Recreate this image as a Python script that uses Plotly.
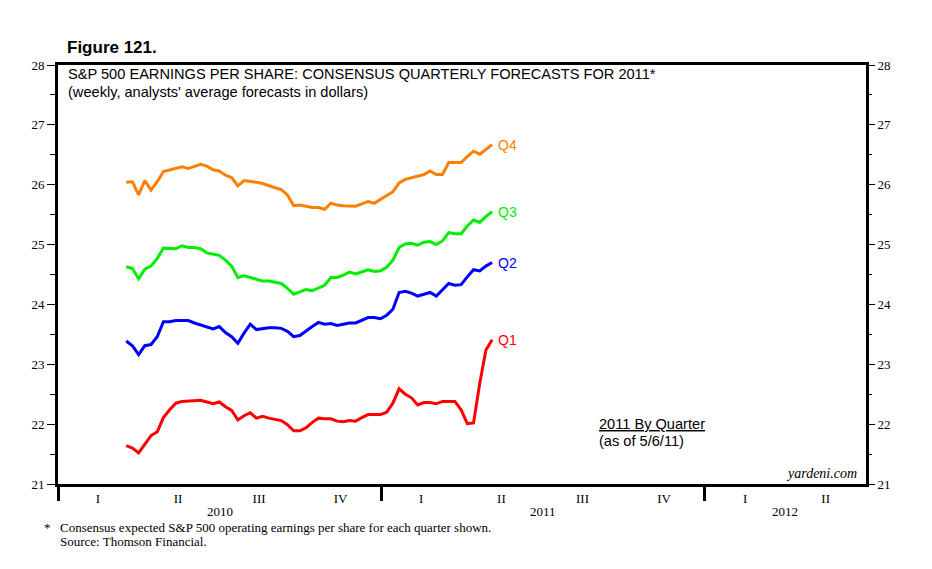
import pandas as pd
import plotly.graph_objects as go

# weekly dates of the analysts' forecasts (Mar 19 2010 .. May 6 2011)
fechas = pd.date_range("2010-03-19", periods=60, freq="7D")

q1 = [21.64, 21.60, 21.52, 21.67, 21.81, 21.87, 22.11, 22.24, 22.35, 22.38,
      22.39, 22.39, 22.40, 22.37, 22.34, 22.37, 22.29, 22.23, 22.07, 22.14,
      22.19, 22.10, 22.13, 22.10, 22.08, 22.06, 21.99, 21.89, 21.89, 21.94,
      22.03, 22.10, 22.09, 22.09, 22.05, 22.04, 22.06, 22.05, 22.11, 22.16,
      22.16, 22.16, 22.20, 22.35, 22.59, 22.50, 22.44, 22.32, 22.36, 22.36,
      22.34, 22.38, 22.38, 22.38, 22.24, 22.01, 22.02, 22.68, 23.24, 23.41]

q2 = [23.39, 23.31, 23.16, 23.31, 23.33, 23.46, 23.71, 23.71, 23.73, 23.73,
      23.73, 23.69, 23.66, 23.62, 23.59, 23.63, 23.53, 23.46, 23.35, 23.52,
      23.67, 23.58, 23.60, 23.61, 23.61, 23.60, 23.55, 23.46, 23.48, 23.56,
      23.63, 23.70, 23.67, 23.68, 23.65, 23.67, 23.69, 23.69, 23.73, 23.78,
      23.78, 23.76, 23.82, 23.92, 24.20, 24.22, 24.19, 24.14, 24.17, 24.20,
      24.14, 24.24, 24.35, 24.32, 24.33, 24.46, 24.58, 24.56, 24.64, 24.70]

q3 = [24.63, 24.60, 24.43, 24.59, 24.64, 24.77, 24.94, 24.94, 24.93, 24.98,
      24.95, 24.95, 24.93, 24.86, 24.84, 24.82, 24.74, 24.64, 24.45, 24.48,
      24.45, 24.42, 24.39, 24.39, 24.37, 24.35, 24.27, 24.17, 24.21, 24.25,
      24.23, 24.27, 24.32, 24.45, 24.45, 24.49, 24.54, 24.51, 24.55, 24.58,
      24.55, 24.56, 24.62, 24.74, 24.95, 25.01, 25.02, 24.99, 25.04, 25.05,
      25.00, 25.06, 25.20, 25.18, 25.18, 25.31, 25.41, 25.37, 25.47, 25.55]

q4 = [26.04, 26.05, 25.83, 26.07, 25.91, 26.05, 26.22, 26.25, 26.28, 26.30,
      26.27, 26.31, 26.34, 26.31, 26.25, 26.23, 26.16, 26.12, 25.98, 26.07,
      26.06, 26.04, 26.02, 25.98, 25.95, 25.92, 25.83, 25.65, 25.66, 25.64,
      25.62, 25.62, 25.59, 25.69, 25.66, 25.65, 25.64, 25.64, 25.68, 25.72,
      25.69, 25.76, 25.82, 25.88, 26.03, 26.09, 26.12, 26.15, 26.17, 26.23,
      26.17, 26.17, 26.37, 26.37, 26.37, 26.47, 26.56, 26.51, 26.59, 26.67]

series = {"Q1": q1, "Q2": q2, "Q3": q3, "Q4": q4}
colores = {"Q1": "#FF0000", "Q2": "#0000FF", "Q3": "#00EE00", "Q4": "#FF8000"}

# eje x: trimestres y anios
trimestres = ["I", "II", "III", "IV", "I", "II", "III", "IV", "I", "II"]
inicio_trim = pd.date_range("2010-01-01", periods=11, freq="QS")
anios = ["2010", "2011", "2012"]

# tamanio de la figura y del area de trazado (pixeles)
W, H = 932, 569
L, R, T, B = 58, 66, 65, 85
PW, PH = W - L - R, H - T - B


def px_x(px):
    return (px - L) / PW


def px_y(py):
    return (H - B - py) / PH


SERIF = "Liberation Serif, Times New Roman, serif"
SANS = "Liberation Sans, Arial, sans-serif"

fig = go.Figure()
for nombre, valores in series.items():
    fig.add_trace(go.Scatter(
        x=fechas, y=valores, mode="lines", name=nombre,
        line=dict(color=colores[nombre], width=3),
        hoverinfo="x+y+name"))
# traza vacia para el eje derecho
fig.add_trace(go.Scatter(x=[fechas[0]], y=[q1[0]], yaxis="y2",
                         mode="lines", showlegend=False, hoverinfo="skip",
                         line=dict(color="rgba(0,0,0,0)")))

# centro de cada trimestre para las etiquetas romanas
centros = [inicio_trim[i] + (inicio_trim[i + 1] - inicio_trim[i]) / 2
           for i in range(len(trimestres))]

anotaciones = []
# etiquetas al final de cada serie
for nombre, valores in series.items():
    anotaciones.append(dict(
        x=fechas[-1], y=valores[-1], xref="x", yref="y", text=nombre,
        showarrow=False, xanchor="left", xshift=4,
        font=dict(family=SANS, size=14, color=colores[nombre])))

# anios debajo de los trimestres
limites_anio = [pd.Timestamp("2010-01-01"), pd.Timestamp("2011-01-01"),
                pd.Timestamp("2012-01-01"), pd.Timestamp("2012-07-01")]
for i, anio in enumerate(anios):
    medio = limites_anio[i] + (limites_anio[i + 1] - limites_anio[i]) / 2
    anotaciones.append(dict(
        x=medio, y=px_y(511), xref="x", yref="paper", text=anio,
        showarrow=False, yanchor="middle",
        font=dict(family=SERIF, size=13, color="black")))

textos = [
    ("<b>Figure 121.</b>", 65, 47, "left", SANS, 17),
    ("S&P 500 EARNINGS PER SHARE: CONSENSUS QUARTERLY FORECASTS FOR 2011*",
     66, 74.5, "left", SANS, 14.6),
    ("(weekly, analysts' average forecasts in dollars)", 66, 91.5, "left",
     SANS, 14.6),
    ("<u>2011 By Quarter</u>", 597, 424, "left", SANS, 14.6),
    ("(as of 5/6/11)", 597, 441, "left", SANS, 14.6),
    ("<i>yardeni.com</i>", 859, 473, "right", SERIF, 14),
    ("*", 42, 527, "left", SERIF, 13),
    ("Consensus expected S&P 500 operating earnings per share for each "
     "quarter shown.", 58, 527, "left", SERIF, 13),
    ("Source: Thomson Financial.", 58, 541, "left", SERIF, 13),
]
for texto, x, y, anc, familia, tam in textos:
    anotaciones.append(dict(
        x=px_x(x), y=px_y(y), xref="paper", yref="paper", text=texto,
        showarrow=False, xanchor=anc, yanchor="middle",
        font=dict(family=familia, size=tam, color="black")))

eje_y = dict(
    range=[21, 28], dtick=1, ticks="outside", ticklen=8, tickwidth=1,
    tickcolor="black", showgrid=False, zeroline=False,
    tickfont=dict(family=SERIF, size=13, color="black"),
    minor=dict(dtick=0.5, ticks="outside", ticklen=5, tickwidth=1,
               tickcolor="black", showgrid=False))

fig.update_layout(
    width=W, height=H,
    margin=dict(l=L, r=R, t=T, b=B),
    paper_bgcolor="white", plot_bgcolor="white",
    showlegend=False,
    xaxis=dict(
        type="date", range=["2010-01-01", "2012-07-01"],
        tickvals=centros, ticktext=trimestres, ticks="",
        tickfont=dict(family=SERIF, size=13, color="black"),
        showline=True, linewidth=3, linecolor="black", mirror=True,
        showgrid=False, zeroline=False,
        minor=dict(tick0="2010-01-01", dtick="M12", ticks="outside",
                   ticklen=14, tickwidth=3, tickcolor="black",
                   showgrid=False)),
    yaxis=dict(eje_y, showline=True, linewidth=3, linecolor="black",
               mirror=True),
    yaxis2=dict(eje_y, overlaying="y", side="right", showline=False),
    annotations=anotaciones,
)

# sin margen del body para que la figura quede en la esquina
fig.write_html("out.html", config={"displayModeBar": False},
               post_script="document.body.style.margin='0';")
